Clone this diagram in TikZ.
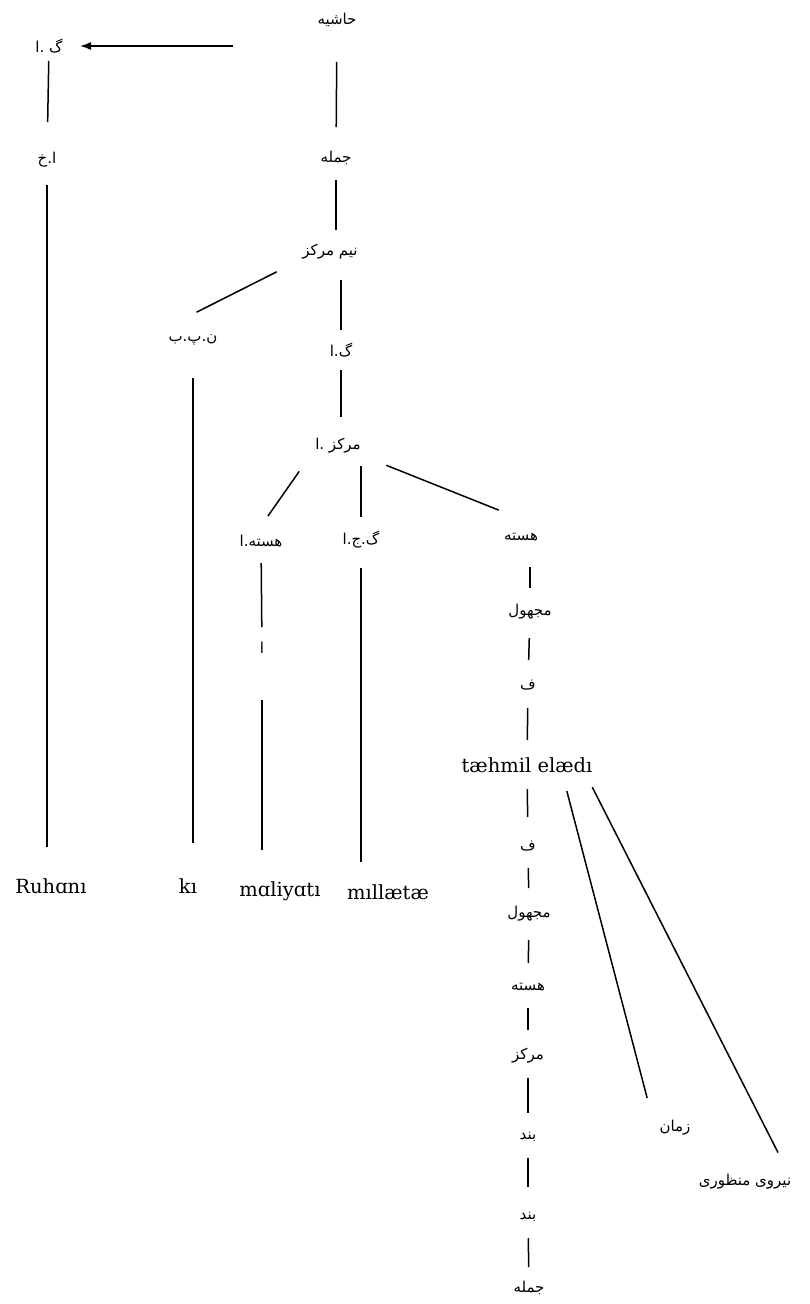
\documentclass[tikz,border=0pt]{standalone}
\usepackage{fontspec}
\usepackage{tikz}
\usetikzlibrary{arrows.meta}
\newfontfamily\arabicfont[Script=Arabic]{DejaVu Sans}
\newfontfamily\latinfont{DejaVu Serif}
\TeXXeTstate=1
\newcommand{\fa}[1]{{\arabicfont\beginR #1\endR}}

\begin{document}
\begin{tikzpicture}[x=1pt,y=-1pt,
      lbl/.style={inner sep=0pt,font=\fontsize{15}{18}\selectfont},
      word/.style={inner sep=0pt,font=\latinfont\fontsize{19.5}{23}\selectfont},
      link/.style 2 args={line width=1.5pt,shorten <=#1,shorten >=#2}]
   \useasboundingbox (0,0) rectangle (809,1304);

   % upper part of the tree
   \node[lbl] (hashie)    at (337,20)  {\fa{حاشیه}};
   \node[lbl] (gaTop)     at (49,46)   {\fa{گ .ا}};
   \coordinate (arrowtail) at (233,46);
   \node[lbl] (alefkh)    at (47,160)  {\fa{ا.خ}};
   \node[lbl] (jomle)     at (336,158) {\fa{جمله}};
   \node[lbl] (nimmarkaz) at (330,252) {\fa{نیم مرکز}};
   \node[lbl] (nbp)       at (193,340) {\fa{ن.پ.ب}};
   \node[lbl] (ga)        at (341,350) {\fa{گ.ا}};
   \node[lbl] (markaz)    at (338,446) {\fa{مرکز .ا}};
   \node[lbl] (hastea)    at (261,541) {\fa{هسته.ا}};
   \node[lbl] (gja)       at (361,540) {\fa{گ.ج.ا}};
   \node[lbl] (haste)     at (521,537) {\fa{هسته}};
   \node[lbl] (alef)      at (262,648) {\fa{ا}};

   % right branch
   \node[lbl]  (majhul)  at (530,612)  {\fa{مجهول}};
   \node[lbl]  (fe)      at (528,685)  {\fa{ف}};
   \node[word] (tahmil)  at (527,765)  {tæhmil elædı};
   \node[lbl]  (feb)     at (528,846)  {\fa{ف}};
   \node[lbl]  (majhulb) at (529,914)  {\fa{مجهول}};
   \node[lbl]  (hasteb)  at (528,987)  {\fa{هسته}};
   \node[lbl]  (markazb) at (528,1056) {\fa{مرکز}};
   \node[lbl]  (band)    at (528,1137) {\fa{بند}};
   \node[lbl]  (bandb)   at (528,1217) {\fa{بند}};
   \node[lbl]  (jomleb)  at (529,1288) {\fa{جمله}};
   \node[lbl]  (zaman)   at (675,1128) {\fa{زمان}};
   \node[lbl]  (niru)    at (745,1182) {\fa{نیروی منظوری}};

   % leaves
   \node[word] (ruhani)    at (51,886)  {Ruhɑnı};
   \node[word] (ki)        at (188,886) {kı};
   \node[word] (maliyati)  at (280,891) {mɑliyɑtı};
   \node[word] (millaetae) at (388,892) {mıllætæ};

   \draw[-{Latex[length=11pt,width=8pt]},line width=1.5pt,shorten >=31pt] (arrowtail) -- (gaTop.center);
   \draw[link={15pt}{38pt}] (gaTop.center) -- (alefkh.center);
   \draw[link={25pt}{39pt}] (alefkh.center) -- (alefkh.center |- ruhani.center);
   \draw[link={42pt}{31pt}] (hashie.center) -- (jomle.center);
   \draw[link={22pt}{22pt}] (jomle.center) -- (jomle.center |- nimmarkaz.center);
   \draw[link={44pt}{4pt}] ([xshift=-14pt]nimmarkaz.center) -- ([yshift=26pt]nbp.center);
   \draw[link={28pt}{20pt}] (nimmarkaz.center -| ga.center) -- (ga.center);
   \draw[link={38pt}{43pt}] (nbp.center) -- (nbp.center |- ki.center);
   \draw[link={20pt}{29pt}] (ga.center) -- (ga.center |- markaz.center);
   \draw[link={31pt}{12pt}] ([xshift=-21pt]markaz.center) -- ([yshift=15pt]hastea.center);
   \draw[link={20pt}{23pt}] (markaz.center -| gja.center) -- (gja.center);
   \draw[link={52pt}{24pt}] (markaz.center) -- ([yshift=18pt]haste.center);
   \draw[link={22pt}{21pt}] (hastea.center) -- (alef.center);
   \draw[link={52pt}{41pt}] (alef.center) -- (alef.center |- maliyati.center);
   \draw[link={28pt}{30pt}] (gja.center) -- (gja.center |- millaetae.center);

   \draw[link={30pt}{24pt}] (majhul.center |- haste.center) -- (majhul.center);
   \draw[link={26pt}{25pt}] (majhul.center) -- (fe.center);
   \draw[link={23pt}{25pt}] (fe.center) -- (tahmil.center);
   \draw[link={24pt}{29pt}] (tahmil.center) -- (feb.center);
   \draw[link={22pt}{26pt}] (feb.center) -- (majhulb.center);
   \draw[link={26pt}{24pt}] (majhulb.center) -- (hasteb.center);
   \draw[link={21pt}{26pt}] (hasteb.center) -- (markazb.center);
   \draw[link={22pt}{24pt}] (markazb.center) -- (band.center);
   \draw[link={21pt}{30pt}] (band.center) -- (bandb.center);
   \draw[link={21pt}{21pt}] (bandb.center) -- (jomleb.center);
   \draw[link={27pt}{31pt}] ([xshift=33pt]tahmil.center) -- ([xshift=-20pt]zaman.center);
   \draw[link={25pt}{33pt}] ([xshift=54pt]tahmil.center) -- ([xshift=48pt]niru.center);
\end{tikzpicture}
\end{document}
